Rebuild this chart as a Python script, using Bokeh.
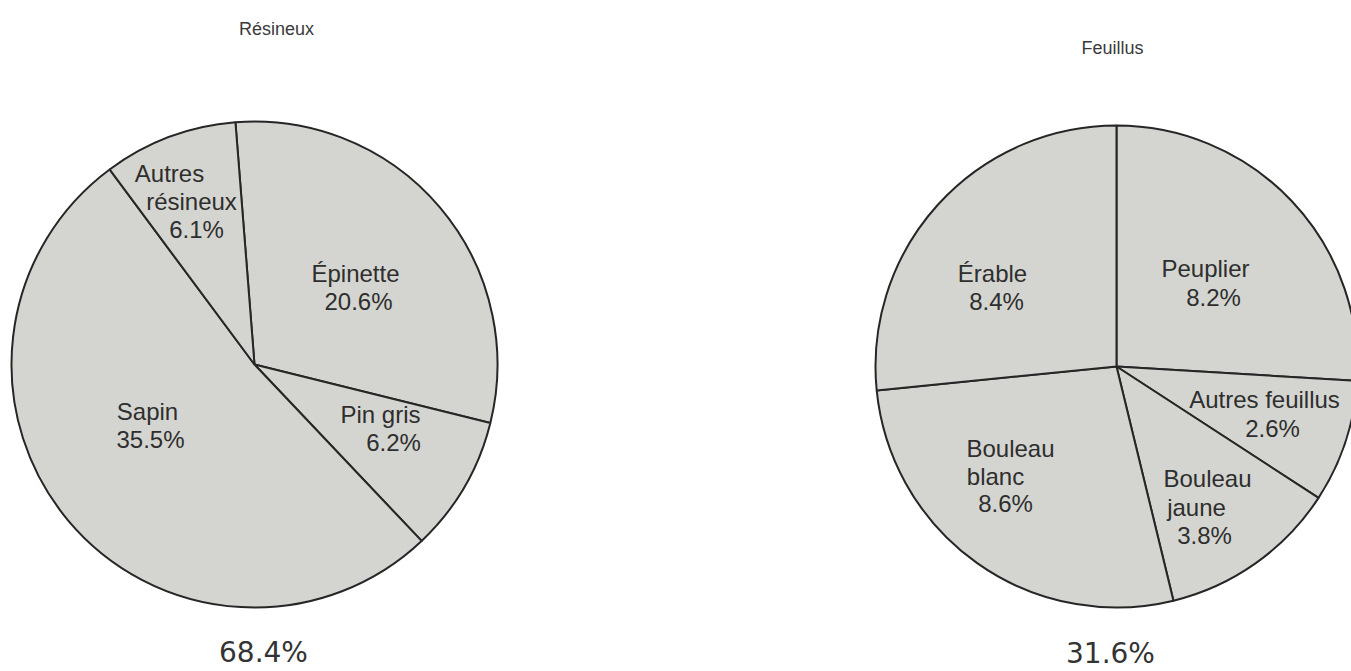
import numpy as np
from bokeh.plotting import figure
from bokeh.models import Range1d, ColumnDataSource
from bokeh.core.properties import value
from bokeh.embed import file_html
from bokeh.resources import INLINE

# ---------------- data ----------------
titles = ["Résineux", "Feuillus"]
res_categories = ["Épinette", "Pin gris", "Sapin", "Autres résineux"]
res_values = [20.6, 6.2, 35.5, 6.1]
res_total = 68.4
feu_categories = ["Peuplier", "Autres feuillus", "Bouleau jaune", "Bouleau blanc", "Érable"]
feu_values = [8.2, 2.6, 3.8, 8.6, 8.4]
feu_total = 31.6

# ---------------- layout ----------------
W, H = 1351, 671


def X(sx):
    return sx


def Y(sy):
    return H - sy


FILL = "#d4d5d0"
EDGE = "#262626"
TXT = "#2e2e2e"
FONT = value("Liberation Sans")

# label line positions (screen px) per category
res_label_pos = [
    [(355, 273), (358, 301)],
    [(380, 414), (393, 442)],
    [(147, 411), (150, 439)],
    [(169, 173), (191, 201), (196, 229)],
]
feu_label_pos = [
    [(1205, 268), (1213, 297)],
    [(1264, 399), (1272, 428)],
    [(1207, 478), (1196, 507), (1204, 535)],
    [(1010, 448), (995, 476), (1005, 503)],
    [(992, 273), (996, 301)],
]

p = figure(width=W, height=H, x_range=Range1d(0, W), y_range=Range1d(0, H),
           output_backend="svg", toolbar_location=None, min_border=0)
p.axis.visible = False
p.grid.visible = False
p.outline_line_color = None
p.background_fill_color = "white"
p.border_fill_color = "white"


def pie(values, total, cx, cy, r, start_deg):
    vals = np.array(values, dtype=float)
    cum = np.concatenate([[0.0], np.cumsum(vals)]) / total * 2 * np.pi
    a0 = np.deg2rad(start_deg)
    src = ColumnDataSource(dict(
        x=[X(cx)] * len(vals), y=[Y(cy)] * len(vals),
        start=a0 - cum[1:], end=a0 - cum[:-1]))
    p.wedge(x="x", y="y", radius=r, start_angle="start", end_angle="end",
            source=src, fill_color=FILL, line_color=EDGE, line_width=2)


def labels(cats, vals, positions):
    xs, ys, ts = [], [], []
    for name, v, pos in zip(cats, vals, positions):
        lines = name.split(" ") if len(pos) == 3 else [name]
        lines = lines + [f"{v:.1f}%"]
        for t, (sx, sy) in zip(lines, pos):
            xs.append(X(sx)); ys.append(Y(sy)); ts.append(t)
    p.text(x=xs, y=ys, text=ts, text_align="center", text_baseline="middle",
           text_font=FONT, text_font_size="24px", text_color=TXT)


pie(res_values, res_total, 254, 364, 243, 94.5)
pie(feu_values, feu_total, 1116, 366, 241, 90.0)
labels(res_categories, res_values, res_label_pos)
labels(feu_categories, feu_values, feu_label_pos)

# titles
p.text(x=[X(276), X(1112)], y=[Y(28), Y(47)], text=titles,
       text_align="center", text_baseline="middle",
       text_font=FONT, text_font_size="18px", text_color="#3a3a3a")

# totals
p.text(x=[X(263), X(1110)], y=[Y(652), Y(653)],
       text=[f"{res_total:.1f}%", f"{feu_total:.1f}%"],
       text_align="center", text_baseline="middle",
       text_font=value("DejaVu Sans"), text_font_size="28px", text_color="#333333")

open("out.html", "w").write(file_html(p, INLINE))
